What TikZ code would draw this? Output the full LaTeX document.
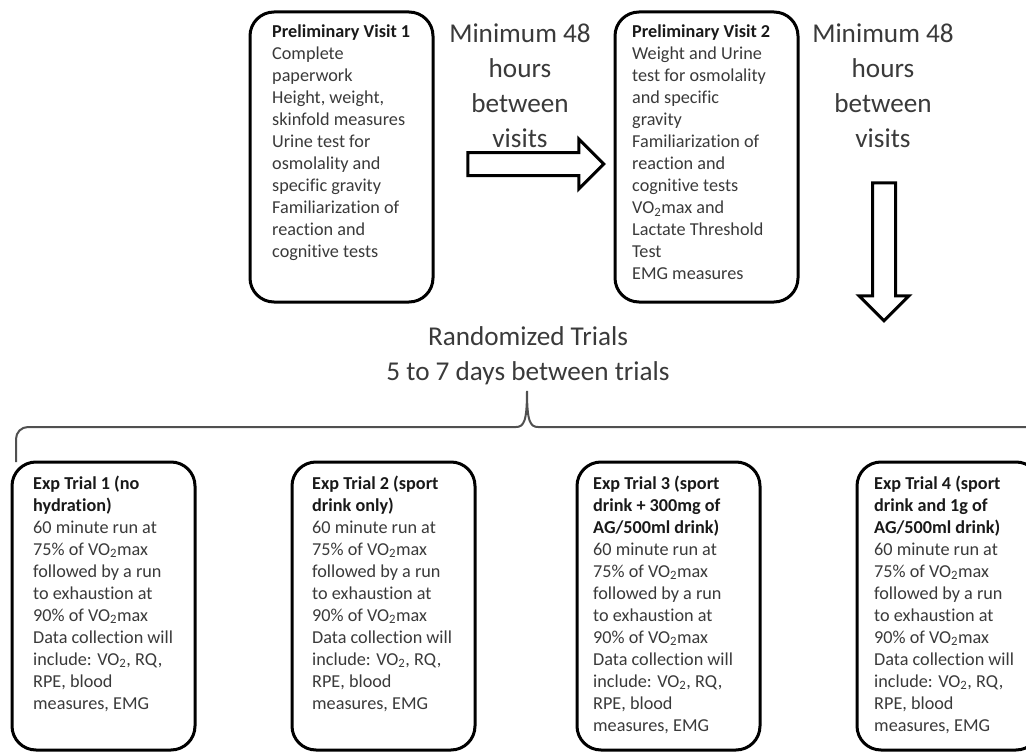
\documentclass[tikz,border=0pt]{standalone}
\usepackage{fontspec}
\setmainfont[Ligatures=NoCommon]{Carlito}
\usetikzlibrary{shapes.arrows}
\definecolor{txtgray}{HTML}{3A3A3A}
\definecolor{bracegray}{HTML}{505050}
\newcommand\myhead[1]{\textcolor{black!90}{\textbf{#1}}}
\newcommand\trialbody{60 minute run at\\75\% of VO\textsubscript{2}max\\followed by a run\\to exhaustion at\\90\% of VO\textsubscript{2}max\\Data collection will\\include: VO\textsubscript{2}, RQ,\\RPE, blood\\measures, EMG}
\begin{document}
\begin{tikzpicture}[x=1pt,y=-1pt,
  box/.style={draw=black, line width=3pt, rounded corners=24pt, inner sep=0pt, outer sep=0pt, anchor=north west},
  pvbox/.style={box, minimum width=183pt, minimum height=290pt},
  trialbox/.style={box, minimum width=183pt, minimum height=288pt},
  txt/.style={anchor=north west, align=left, inner sep=0pt, font=\fontsize{18.2}{22}\selectfont, text=txtgray},
  big/.style={anchor=north, align=center, inner sep=0pt, font=\fontsize{27.2}{35}\selectfont, text=txtgray},
  blockarrow/.style={single arrow, draw=black, line width=3pt, fill=white, inner sep=10pt, single arrow head extend=13.5pt, single arrow tip angle=90},
  bracel/.style={draw=bracegray, line width=2pt}
]
\useasboundingbox (0,0) rectangle (1026,752);
\fill[white] (0,0) rectangle (1026,752);

% preliminary visits
\node[pvbox] (pv1) at (250,12) {};
\node[txt] (pv1t) at ([xshift=22pt,yshift=-13pt]pv1.north west) {\myhead{Preliminary Visit 1}\\Complete\\paperwork\\Height, weight,\\skinfold measures\\Urine test for\\osmolality and\\specific gravity\\Familiarization of\\reaction and\\cognitive tests};

\node[pvbox] (pv2) at (615,12) {};
\node[txt] (pv2t) at ([xshift=17pt,yshift=-13pt]pv2.north west) {\myhead{Preliminary Visit 2}\\Weight and Urine\\test for osmolality\\and specific\\gravity\\Familiarization of\\reaction and\\cognitive tests\\VO\textsubscript{2}max and\\Lactate Threshold\\Test\\EMG measures};

% gaps
\node[big] (gap1) at (520,24) {Minimum 48\\hours\\between\\visits};
\node[big] (gap2) at (883,24) {Minimum 48\\hours\\between\\visits};

\node[blockarrow, minimum height=136pt] (arr1) at (530,164) {};
\node[blockarrow, minimum height=138pt, shape border rotate=270] (arr2) at (884,246) {};

% randomized trials
\node[big] (rand) at (528,326) {Randomized Trials\\5 to 7 days between trials};

\coordinate (bt) at (527,391);
\coordinate (bl) at (16,462);
\coordinate (br) at (1040,462);
\draw[bracel, rounded corners=12pt] (bl) -- (16,427) -- (516,427);
\draw[bracel] (516,427) .. controls (524,427) and (527,421) .. (bt) .. controls (527,421) and (530,427) .. (538,427);
\draw[bracel, rounded corners=12pt] (538,427) -- (1040,427) -- (br);

% trials
\node[trialbox] (t1) at (12,462) {};
\node[txt] (t1t) at ([xshift=21pt,yshift=-13.5pt]t1.north west) {\myhead{Exp Trial 1 (no}\\\myhead{hydration)}\\\trialbody};

\node[trialbox] (t2) at (292,462) {};
\node[txt] (t2t) at ([xshift=20pt,yshift=-13.5pt]t2.north west) {\myhead{Exp Trial 2 (sport}\\\myhead{drink only)}\\\trialbody};

\node[trialbox] (t3) at (577,462) {};
\node[txt] (t3t) at ([xshift=16pt,yshift=-13.5pt]t3.north west) {\myhead{Exp Trial 3 (sport}\\\myhead{drink + 300mg of}\\\myhead{AG/500ml drink)}\\\trialbody};

\node[trialbox] (t4) at (857,462) {};
\node[txt] (t4t) at ([xshift=17pt,yshift=-13.5pt]t4.north west) {\myhead{Exp Trial 4 (sport}\\\myhead{drink and 1g of}\\\myhead{AG/500ml drink)}\\\trialbody};
\end{tikzpicture}
\end{document}
